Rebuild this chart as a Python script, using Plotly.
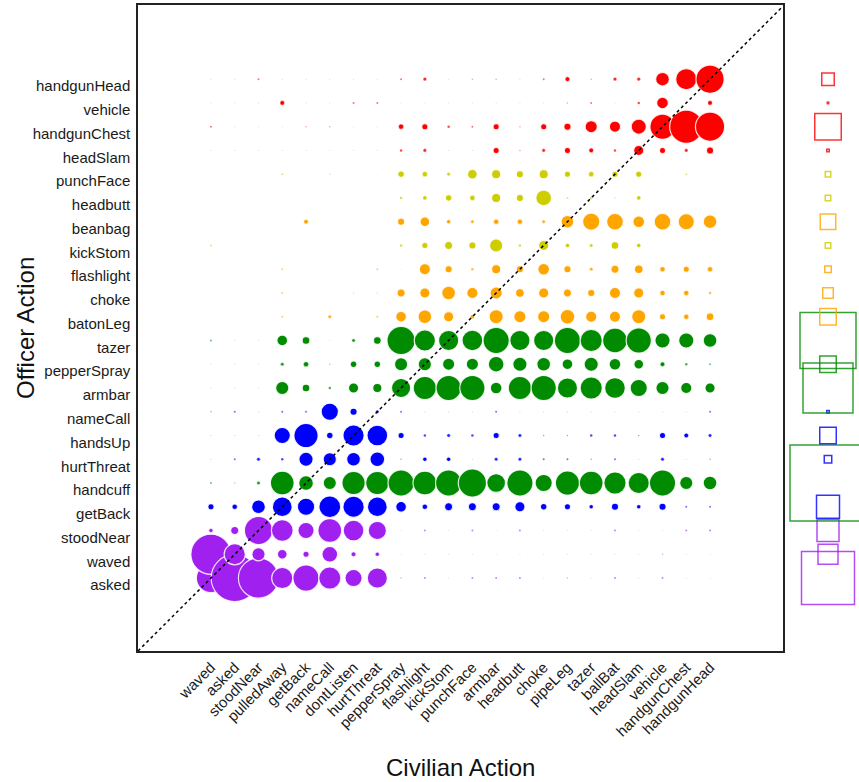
import numpy as np
import plotly.graph_objects as go

civilian = ["waved", "asked", "stoodNear", "pulledAway", "getBack", "nameCall",
            "dontListen", "hurtThreat", "pepperSpray", "flashlight", "kickStom",
            "punchFace", "armbar", "headbutt", "choke", "pipeLeg", "tazer",
            "ballBat", "headSlam", "vehicle", "handgunChest", "handgunHead"]

officer = ["asked", "waved", "stoodNear", "getBack", "handcuff", "hurtThreat",
           "handsUp", "nameCall", "armbar", "pepperSpray", "tazer", "batonLeg",
           "choke", "flashlight", "kickStom", "beanbag", "headbutt", "punchFace",
           "headSlam", "handgunChest", "vehicle", "handgunHead"]

officer_group = ["purple", "purple", "purple", "blue", "green", "blue",
                 "blue", "blue", "green", "green", "green", "orange",
                 "orange", "orange", "yellow", "orange", "yellow", "yellow",
                 "red", "red", "red", "red"]

# co-occurrence score (officer row x civilian column)
score_asked = [28, 46, 39, 20, 25, 21, 16, 19, 1.5, 2, 1, 2, 2, 2, 1, 1.5, 1, 2, 1, 2, 1, 1]
score_waved = [39, 20, 12, 8.5, 5, 14.5, 4, 3.5, 1, 1, 1, 1, 1, 1, 1, 1, 1, 1, 1, 1.5, 1, 1]
score_stoodNear = [3.5, 7, 27, 20.5, 15, 22.5, 19.5, 17, 1, 2, 1, 2, 1, 2, 1, 1, 1, 2, 1, 1, 2, 2]
score_getBack = [5, 4.5, 12.5, 18.5, 16, 20.5, 20, 18.5, 9.5, 4.5, 7, 7, 7, 9, 5.5, 5, 3.5, 6, 3.5, 6, 2, 2]
score_handcuff = [2, 1.5, 3, 22.5, 13.5, 12, 22, 22, 25, 22.5, 25, 27, 17.5, 25, 16, 23, 22.5, 21, 20, 25, 12, 12.5]
score_hurtThreat = [1, 2, 3, 2.5, 13, 12, 12.5, 13.5, 1.5, 3.5, 3.5, 1, 3, 3, 2, 2, 1.5, 2, 1, 3, 1, 1.5]
score_handsUp = [1, 1, 1, 15, 23, 5.5, 20, 19.5, 5, 2.5, 3, 2.5, 5, 3, 1.5, 1.5, 2.5, 2.5, 1.5, 5, 4, 3]
score_nameCall = [1.5, 2, 1, 2, 2, 16, 6, 3, 2, 1, 1, 1, 2, 1, 1, 1, 1, 1, 1, 1, 1, 2]
score_armbar = [1, 1, 1, 12, 6.5, 2.5, 9, 8, 18, 22, 24, 24, 10.5, 22, 24, 19, 21, 19.5, 16, 12, 10, 9]
score_pepperSpray = [1, 1, 1, 3, 4.5, 1.5, 5.5, 5.5, 12, 12, 11, 11, 14.5, 13, 12.5, 9.5, 13, 10.5, 8.5, 4, 2.5, 2]
score_tazer = [2, 1, 1, 9.5, 6.5, 1, 3, 6.5, 27, 20, 19, 19.5, 25, 19, 19, 25, 21, 23.5, 24, 14, 14, 12.5]
score_batonLeg = [1, 1, 1, 2, 1, 3, 1, 2, 9.5, 12.5, 9, 3.5, 13, 11, 11, 13.5, 10, 10, 13, 5, 4.5, 6.5]
score_choke = [1, 1, 1, 2, 1, 1, 1.5, 1.5, 7, 9, 12.5, 10, 11, 7.5, 9, 7, 6, 10, 9, 4.5, 4.5, 2.5]
score_flashlight = [1, 1, 1, 2, 1, 1, 1, 2, 1, 10, 6, 2.5, 8, 6, 10.5, 6, 3, 7, 7.5, 4.5, 5, 4.5]
score_kickStom = [2, 1, 1, 1, 1, 1, 1, 1, 2.5, 5, 7, 6, 12, 2.5, 9, 3.5, 3, 6.5, 3.5, 1, 1, 1]
score_beanbag = [1, 1, 1, 1, 4, 1, 1, 1, 6, 8.5, 3.5, 3, 4.5, 4.5, 3, 11.5, 16, 15.5, 10.5, 15.5, 15, 12.5]
score_headbutt = [1, 1, 1, 1, 1, 1, 1, 1, 2.5, 3.5, 5.5, 4.5, 8, 6, 14.5, 2, 2.5, 1.5, 3.5, 1, 1, 1]
score_punchFace = [1, 1, 1, 2, 1, 1.5, 1, 1, 5.5, 4.5, 3, 8.5, 8, 6, 8, 5, 4.5, 5, 5, 1, 2, 1]
score_headSlam = [1, 1, 1, 1, 1, 1, 1, 1, 2.5, 3, 1, 1, 5, 1.5, 3, 5, 4, 2.5, 9, 5, 3, 6]
score_handgunChest = [2, 1, 1, 1, 1.5, 1.5, 1, 1, 4.5, 5, 2.5, 2, 5, 1.5, 5, 6, 11, 10, 14, 24, 32, 28]
score_vehicle = [1, 1, 1, 4, 1, 1, 2, 2, 1, 1, 1, 1, 1, 1, 1, 1.5, 2, 1, 2.5, 10.5, 1, 4]
score_handgunHead = [1, 1, 2, 1, 1, 1, 1, 1, 2, 3, 1, 1.5, 1.5, 1, 2, 4, 1.5, 3, 3, 12.5, 20, 27]

# officer-action marginal (right-hand squares)
officer_marginal = [53, 20, 22, 23, 76, 7.5, 16.5, 2.5, 50, 16.5, 56, 16.5,
                    10.5, 6.5, 5.5, 15.5, 5.5, 5.5, 2.5, 26.5, 1.5, 12.5]

scores = [score_asked, score_waved, score_stoodNear, score_getBack, score_handcuff,
          score_hurtThreat, score_handsUp, score_nameCall, score_armbar,
          score_pepperSpray, score_tazer, score_batonLeg, score_choke,
          score_flashlight, score_kickStom, score_beanbag, score_headbutt,
          score_punchFace, score_headSlam, score_handgunChest, score_vehicle,
          score_handgunHead]

palette = {"purple": "#A020F0", "blue": "#0000FF", "green": "#008B00",
           "orange": "#FFA500", "yellow": "#CDCD00", "red": "#FF0000"}

M = np.array(scores, dtype=float)  # rows: officer, cols: civilian
n_off, n_civ = M.shape

xs, ys, sizes, cols, ops, lws = [], [], [], [], [], []
for i in range(n_civ):
    for j in range(n_off):
        v = M[j, i]
        lw = 1.2 if v >= 5 else (0.6 if v >= 3 else 0.0)
        xs.append(i)
        ys.append(j)
        sizes.append(v + lw)
        cols.append(palette[officer_group[j]])
        ops.append(float(np.clip(0.3 * v - 0.05, 0.2, 1.0)))
        lws.append(lw)

lo = -3.07
hi_x = n_civ - 1 + 3.07
hi_y = n_off - 1 + 3.12

W, H = 859, 782
ML, MT, MB = 138, 5, 131
plot_w = W - ML          # plotting region incl. marginal strip
main_w = 645             # main panel width in px

fig = go.Figure()
fig.add_trace(go.Scatter(
    x=xs, y=ys, mode="markers", hoverinfo="skip",
    marker=dict(size=sizes, color=cols, opacity=ops,
                line=dict(color="rgba(255,255,255,0.85)", width=lws)),
    cliponaxis=False, showlegend=False))

# right-hand marginal squares (own strip axis)
fig.add_trace(go.Scatter(
    x=[0] * n_off, y=list(range(n_off)), mode="markers", xaxis="x2", yaxis="y",
    hoverinfo="skip",
    marker=dict(symbol="square-open", size=officer_marginal,
                color=[palette[g] for g in officer_group], opacity=0.8,
                line=dict(width=1.5)),
    cliponaxis=False, showlegend=False))

fig.add_shape(type="line", xref="x", yref="y", x0=lo, y0=lo, x1=hi_x, y1=hi_x,
              line=dict(color="black", width=1.5, dash="dot"), layer="above")

font_main = "Liberation Sans, Arial, sans-serif"
strip_lo = main_w + 1
fig.update_layout(
    width=W, height=H,
    margin=dict(l=ML, r=0, t=MT, b=MB),
    paper_bgcolor="white", plot_bgcolor="white",
    font=dict(family=font_main, color="#1a1a1a", size=15),
    xaxis=dict(domain=[0, main_w / plot_w], range=[lo, hi_x], tickmode="array",
               tickvals=list(range(n_civ)), ticktext=civilian, tickangle=-45,
               ticks="", showgrid=False, zeroline=False, showline=True,
               mirror=True, linecolor="#222", linewidth=1.5,
               tickfont=dict(size=15)),
    xaxis2=dict(domain=[strip_lo / plot_w, 1], range=[-44, 31], anchor="y",
                visible=False, showgrid=False, zeroline=False),
    yaxis=dict(range=[lo, hi_y], tickmode="array", tickvals=list(range(n_off)),
               ticktext=officer, ticks="", showgrid=False, zeroline=False,
               showline=True, mirror=True, linecolor="#222", linewidth=1.5,
               tickfont=dict(size=15), ticklabelshift=7, ticklabelstandoff=3),
    annotations=[
        dict(text="Civilian Action", xref="paper", yref="paper",
             x=(main_w / 2) / plot_w, y=0,
             xanchor="center", yanchor="middle", yshift=-116, showarrow=False,
             font=dict(size=24, color="#111")),
        dict(text="Officer Action", xref="paper", yref="paper", x=0, y=0.5,
             xanchor="center", yanchor="middle", xshift=-113, textangle=-90,
             showarrow=False, font=dict(size=24, color="#111")),
    ],
)

fig.write_html("out.html")
